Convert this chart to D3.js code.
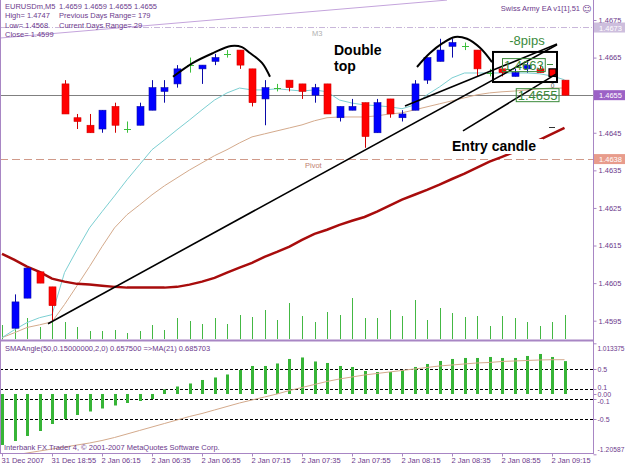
<!DOCTYPE html>
<html>
<head>
<meta charset="utf-8">
<script src="https://cdn.jsdelivr.net/npm/d3@7"></script>
<style>
body { margin: 0; background: #fff; }
svg { display: block; }
text { font-family: "Liberation Sans", Arial, sans-serif; }
</style>
</head>
<body>
<svg width="625" height="469"></svg>
<script>
// EURUSDm M5 bars, 31 Dec 2007 - 2 Jan 2008 (bar 0 sits below the visible range)
var opens  = [1.4588,1.4593,1.4601,1.4608,1.4604,1.4658,1.4649,1.4647,1.4646,1.4652,1.4646,1.4647,1.4651,1.4656,1.4658,1.4663,1.4662,1.4664,1.4666,1.4667,1.4662,1.4654,1.4657,1.4659,1.4658,1.4655,1.4658,1.4649,1.4651,1.4653,1.4645,1.4654,1.4649,1.4651,1.4659,1.4664,1.4668,1.4668,1.4667,1.4661,1.4662,1.4660,1.4662,1.4662,1.4662,1.4659];
var highs  = [1.4590,1.4602,1.4609,1.4608,1.4604,1.4659,1.4650,1.4650,1.4651,1.4653,1.4648,1.4653,1.4659,1.4659,1.4663,1.4665,1.4663,1.4666,1.4667,1.4667,1.4662,1.4659,1.4658,1.4659,1.4658,1.4658,1.4658,1.4652,1.4654,1.4653,1.4654,1.4654,1.4651,1.4659,1.4665,1.4670,1.4670,1.4669,1.4667,1.4662,1.4663,1.4662,1.4664,1.4663,1.4662,1.4659];
var lows   = [1.4586,1.4593,1.4601,1.4605,1.4595,1.4650,1.4646,1.4645,1.4645,1.4645,1.4645,1.4647,1.4651,1.4653,1.4657,1.4661,1.4658,1.4663,1.4665,1.4662,1.4652,1.4647,1.4656,1.4656,1.4654,1.4653,1.4650,1.4648,1.4651,1.4641,1.4645,1.4649,1.4648,1.4651,1.4658,1.4664,1.4665,1.4667,1.4660,1.4660,1.4660,1.4660,1.4661,1.4661,1.4660,1.4655];
var closes = [1.4589,1.4600,1.4609,1.4605,1.4599,1.4650,1.4648,1.4645,1.4651,1.4647,1.4646,1.4652,1.4657,1.4657,1.4662,1.4663,1.4663,1.4665,1.4666,1.4663,1.4653,1.4657,1.4657,1.4657,1.4656,1.4657,1.4650,1.4652,1.4652,1.4644,1.4653,1.4650,1.4650,1.4658,1.4665,1.4667,1.4669,1.4668,1.4662,1.4661,1.4661,1.4661,1.4663,1.4661,1.4660,1.4655];
var volumes = [14,13,21,12,17,17,12,8,8,9,6,8,14,9,21,18,15,21,15,24,22,29,19,36,23,17,27,24,41,21,21,29,23,39,19,31,26,22,23,13,23,21,17,13,17,24];

// moving averages on price
var maFast = [1.45905,1.45926,1.45945,1.45958,1.45966,1.46078,1.46139,1.46197,1.46240,1.46282,1.46325,1.46365,1.46405,1.46431,1.46458,1.46484,1.46511,1.46537,1.46556,1.46569,1.46564,1.46564,1.46567,1.46564,1.46561,1.46564,1.46559,1.46537,1.46529,1.46524,1.46522,1.46519,1.46514,1.46524,1.46551,1.46572,1.46596,1.46609,1.46609,1.46609,1.46609,1.46609,1.46609,1.46607,1.46601,1.46591];
var maSlow = [1.45905,1.45918,1.45932,1.45939,1.45947,1.45993,1.46043,1.46094,1.46147,1.46197,1.46232,1.46258,1.46285,1.46309,1.46330,1.46351,1.46370,1.46389,1.46405,1.46423,1.46439,1.46447,1.46455,1.46463,1.46471,1.46482,1.46490,1.46492,1.46492,1.46492,1.46495,1.46500,1.46503,1.46511,1.46519,1.46527,1.46535,1.46543,1.46551,1.46556,1.46559,1.46561,1.46564,1.46567,1.46569,1.46569];
var maLong = [1.46128,1.46112,1.46094,1.46080,1.46062,1.46054,1.46048,1.46046,1.46043,1.46040,1.46038,1.46038,1.46038,1.46038,1.46040,1.46046,1.46054,1.46064,1.46078,1.46091,1.46104,1.46120,1.46133,1.46147,1.46165,1.46181,1.46192,1.46205,1.46216,1.46226,1.46240,1.46256,1.46272,1.46285,1.46298,1.46312,1.46327,1.46341,1.46357,1.46373,1.46386,1.46399,1.46415,1.46431,1.46447,1.46463];

// SMAAngle histogram and its MA(21)
var smaAngle = [-1.02,-0.94,-0.84,-0.74,-0.60,-0.50,-0.42,-0.35,-0.29,-0.23,-0.18,-0.14,-0.10,0.09,0.15,0.21,0.28,0.33,0.39,0.48,0.56,0.56,0.61,0.70,0.73,0.65,0.62,0.56,0.54,0.46,0.44,0.44,0.48,0.54,0.60,0.66,0.70,0.72,0.72,0.74,0.72,0.72,0.76,0.80,0.74,0.6575];
var smaAngleMA = [-1.26,-1.22,-1.18,-1.14,-1.10,-1.06,-1.02,-0.98,-0.93,-0.87,-0.80,-0.73,-0.66,-0.59,-0.52,-0.45,-0.39,-0.32,-0.25,-0.18,-0.12,-0.06,0.00,0.07,0.13,0.19,0.25,0.30,0.34,0.38,0.41,0.44,0.47,0.50,0.53,0.56,0.58,0.60,0.62,0.63,0.65,0.66,0.67,0.68,0.685,0.6857];

var timeTickBars = [0,4,8,12,16,20,24,28,32,36,40,44];
var timeLabels = ["31 Dec 2007","31 Dec 18:55","2 Jan 06:15","2 Jan 06:35","2 Jan 06:55","2 Jan 07:15","2 Jan 07:35","2 Jan 07:55","2 Jan 08:15","2 Jan 08:35","2 Jan 08:55","2 Jan 09:15"];
var priceTicks = [1.4675,1.4665,1.4655,1.4645,1.4635,1.4625,1.4615,1.4605,1.4595];
var indTicks = [1.013375,0.5,0.1,0,-0.1,-0.5,-1.20587];
var indTickLabels = ["1.013375","0.5","0.1","0.00","-0.1","-0.5","-1.20587"];
var indLevels = [0.5,0.1,-0.1,-0.5];

var headerLeft = ["EURUSDm,M5","High= 1.4747","Low= 1.4568","Close= 1.4599"];
var headerRight = ["1.4659 1.4659 1.4655 1.4655","Previous Days Range= 179","Current Days Range= 29",""];

// drawn objects, in (bar, price) coordinates
var trendLines = [
	[[3.68, 1.45942], [44.4, 1.46684]],
	[[32.24, 1.46521], [44.4, 1.46686]],
	[[36.88, 1.46455], [44.32, 1.46606]]
];
var topTrend = [[-0.16, 1.46702], [35.6, 1.46803]];
var arcs = [
	[[13.68,1.46599],[15.28,1.46636],[16.88,1.46662],[18.32,1.46681],[19.2,1.46678],[19.84,1.46662],[20.8,1.46636],[21.44,1.46599]],
	[[33.2,1.46625],[34.24,1.46662],[35.28,1.46689],[36.24,1.46705],[37.2,1.46700],[38.24,1.46676],[39.2,1.46638]]
];
var boxBars = [39.28, 44.4], boxPrices = [1.46665, 1.46585];
var entryBar = 44;
var m3Level = 1.4673, bidLevel = 1.4655, pivotLevel = 1.4638;

var svg = d3.select("svg"),
	width = +svg.attr("width"),
	height = +svg.attr("height");

var plotRight = 593;
var purple = "#6c3a8c", frame = "#a886c4";

var x = d3.scaleLinear().domain([0, 45]).range([2, 564.5]);
var y = d3.scaleLinear().domain([1.4595, 1.4675]).range([320.7, 20]);
var yv = d3.scaleLinear().domain([0, 100]).range([339, 239]);
var yi = d3.scaleLinear().domain([-1.20587, 1.013375]).range([454.3, 343.3]);

var defs = svg.append("defs");
defs.append("clipPath").attr("id", "pclip").append("rect")
	.attr("x", 1).attr("y", 0).attr("width", plotRight - 1).attr("height", 339.5);
defs.append("clipPath").attr("id", "iclip").append("rect")
	.attr("x", 1).attr("y", 342).attr("width", plotRight - 1).attr("height", 111);

var gP = svg.append("g").attr("clip-path", "url(#pclip)");
var gI = svg.append("g").attr("clip-path", "url(#iclip)");

function px(i) { return Math.round(x(i)) + 0.5; }

// horizontal levels
gP.append("line").attr("x1", 0).attr("x2", plotRight)
	.attr("y1", y(m3Level)).attr("y2", y(m3Level))
	.attr("stroke", "#c9b6da").attr("stroke-dasharray", "6,2,1,2");
gP.append("line").attr("x1", 0).attr("x2", plotRight)
	.attr("y1", Math.round(y(bidLevel)) + 0.5).attr("y2", Math.round(y(bidLevel)) + 0.5)
	.attr("stroke", "#808080");
gP.append("line").attr("x1", 0).attr("x2", plotRight)
	.attr("y1", Math.round(y(pivotLevel)) + 0.5).attr("y2", Math.round(y(pivotLevel)) + 0.5)
	.attr("stroke", "#d09a8a").attr("stroke-dasharray", "8,4");
gP.append("text").attr("x", 312).attr("y", y(m3Level) + 8)
	.attr("font-size", 7.5).attr("fill", "#b0b0b0").text("M3");
gP.append("text").attr("x", 305).attr("y", y(pivotLevel) + 9)
	.attr("font-size", 7.5).attr("fill", "#c08070").text("Pivot");

// top trendline
gP.append("line")
	.attr("x1", x(topTrend[0][0])).attr("y1", y(topTrend[0][1]))
	.attr("x2", x(topTrend[1][0])).attr("y2", y(topTrend[1][1]))
	.attr("stroke", "#c4a4dc");

// volumes
gP.append("g").selectAll("line").data(volumes).enter().append("line")
	.attr("x1", function(d, i) { return px(i); })
	.attr("x2", function(d, i) { return px(i); })
	.attr("y1", yv(0))
	.attr("y2", function(d) { return yv(d); })
	.attr("stroke", "#44b844");

// moving averages
var maLine = function(arr) {
	return d3.line().x(function(d, i) { return x(i); }).y(function(d) { return y(d); })(arr);
};
gP.append("path").attr("d", maLine(maSlow)).attr("fill", "none").attr("stroke", "#d4aa8c").attr("stroke-width", 1);
gP.append("path").attr("d", maLine(maFast)).attr("fill", "none").attr("stroke", "#7ccfd2").attr("stroke-width", 1);
gP.append("path").attr("d", maLine(maLong)).attr("fill", "none").attr("stroke", "#a80c0c").attr("stroke-width", 2.5);

// candles
var candle = gP.append("g").selectAll("g").data(d3.range(opens.length)).enter().append("g");
function cColor(i) {
	if (closes[i] > opens[i]) return "#0000ff";
	if (closes[i] < opens[i]) return "#ff0000";
	return "#3cbf3c";
}
function wColor(i) {
	if (closes[i] > opens[i]) return "#0a0aa8";
	if (closes[i] < opens[i]) return "#d00000";
	return "#3cbf3c";
}
candle.append("line")
	.attr("x1", function(i) { return px(i); })
	.attr("x2", function(i) { return px(i); })
	.attr("y1", function(i) { return y(highs[i]); })
	.attr("y2", function(i) { return y(lows[i]); })
	.attr("stroke", wColor);
candle.filter(function(i) { return closes[i] != opens[i]; })
	.append("rect")
	.attr("x", function(i) { return Math.round(x(i)) - 3; })
	.attr("width", 7)
	.attr("y", function(i) { return y(Math.max(opens[i], closes[i])); })
	.attr("height", function(i) { return Math.abs(y(opens[i]) - y(closes[i])); })
	.attr("fill", cColor)
	.attr("stroke", function(i) { return i == entryBar ? "#000" : wColor(i); })
	.attr("stroke-width", function(i) { return i == entryBar ? 1.2 : 0.6; });
candle.filter(function(i) { return closes[i] == opens[i]; })
	.append("line")
	.attr("x1", function(i) { return Math.round(x(i)) - 3; })
	.attr("x2", function(i) { return Math.round(x(i)) + 4; })
	.attr("y1", function(i) { return Math.round(y(opens[i])) + 0.5; })
	.attr("y2", function(i) { return Math.round(y(opens[i])) + 0.5; })
	.attr("stroke", "#3cbf3c");

// hand drawn objects
var dataLine = d3.line().x(function(d) { return x(d[0]); }).y(function(d) { return y(d[1]); });
gP.append("g").selectAll("path").data(trendLines).enter().append("path")
	.attr("d", dataLine).attr("fill", "none").attr("stroke", "#000").attr("stroke-width", 1.6);
gP.append("g").selectAll("path").data(arcs).enter().append("path")
	.attr("d", dataLine.curve(d3.curveCatmullRom)).attr("fill", "none").attr("stroke", "#000").attr("stroke-width", 2);
gP.append("rect")
	.attr("x", x(boxBars[0])).attr("y", y(boxPrices[0]))
	.attr("width", x(boxBars[1]) - x(boxBars[0]))
	.attr("height", y(boxPrices[1]) - y(boxPrices[0]))
	.attr("fill", "none").attr("stroke", "#000").attr("stroke-width", 2);

// green price tags
var tags = [{bar: 40.0, price: 1.4663}, {bar: 41.1, price: 1.4655}];
tags.forEach(function(t) {
	var g = gP.append("g");
	var tx = g.append("text").attr("x", x(t.bar) + 2).attr("y", y(t.price) + 5)
		.attr("font-size", 13).attr("fill", "#3a8a3a").text(d3.format(".4f")(t.price));
	var w = tx.node().getComputedTextLength();
	g.insert("rect", "text").attr("x", x(t.bar) + 0.5).attr("y", y(t.price) - 6.5)
		.attr("width", w + 3).attr("height", 13).attr("fill", "none").attr("stroke", "#3a8a3a");
});
gP.append("line").attr("x1", 547).attr("x2", 553).attr("y1", 64.5).attr("y2", 64.5).attr("stroke", "#3a8a3a");
gP.append("text").attr("x", 527).attr("y", 45).attr("text-anchor", "middle")
	.attr("font-size", 13).attr("fill", "#3a8a3a").text("-8pips");
gP.append("text").attr("x", px(entryBar)).attr("y", 87.5).attr("text-anchor", "middle")
	.attr("font-size", 6.5).attr("fill", "#555").text("0");
gP.append("line").attr("x1", 549).attr("x2", 555).attr("y1", 127.5).attr("y2", 127.5).attr("stroke", "#333");

// annotation text
gP.append("text").attr("x", 334).attr("y", 55).attr("font-size", 14).attr("font-weight", "bold").text("Double");
gP.append("text").attr("x", 334).attr("y", 71).attr("font-size", 14).attr("font-weight", "bold").text("top");
gP.append("rect").attr("x", 451).attr("y", 139).attr("width", 92).attr("height", 15).attr("fill", "#fff");
gP.append("text").attr("x", 452).attr("y", 151).attr("font-size", 14).attr("font-weight", "bold").text("Entry candle");

// header
var head = svg.append("g").attr("font-size", 7.5).attr("fill", purple);
head.selectAll("text.l").data(headerLeft).enter().append("text")
	.attr("x", 5).attr("y", function(d, i) { return 9 + i * 9.3; }).text(function(d) { return d; });
head.selectAll("text.r").data(headerRight).enter().append("text")
	.attr("x", 59).attr("y", function(d, i) { return 9 + i * 9.3; }).text(function(d) { return d; });
svg.append("text").attr("x", 580).attr("y", 11).attr("text-anchor", "end")
	.attr("font-size", 7.5).attr("fill", purple).text("Swiss Army EA v1[1],51");
svg.append("text").attr("x", 582).attr("y", 12).attr("font-size", 9).attr("fill", purple)
	.style("font-family", "DejaVu Sans").text("\u263A");

// indicator panel
gI.append("g").selectAll("line").data(indLevels).enter().append("line")
	.attr("x1", 0).attr("x2", plotRight)
	.attr("y1", function(d) { return Math.round(yi(d)) + 0.5; })
	.attr("y2", function(d) { return Math.round(yi(d)) + 0.5; })
	.attr("stroke", "#000").attr("stroke-dasharray", "3,2");
gI.append("g").selectAll("rect").data(smaAngle).enter().append("rect")
	.attr("x", function(d, i) { return Math.round(x(i)) - 1; })
	.attr("width", 3)
	.attr("y", function(d) { return Math.min(yi(d), yi(0)); })
	.attr("height", function(d) { return Math.abs(yi(d) - yi(0)); })
	.attr("fill", "#36b436");
gI.append("path")
	.attr("d", d3.line().x(function(d, i) { return x(i); }).y(function(d) { return yi(d); })(smaAngleMA))
	.attr("fill", "none").attr("stroke", "#d4aa8c");
svg.append("text").attr("x", 5).attr("y", 351).attr("font-size", 7.5).attr("fill", purple)
	.text("SMAAngle(50,0.15000000,2,0) 0.657500  =>MA(21) 0.685703");
svg.append("text").attr("x", 4).attr("y", 450).attr("font-size", 7.5).attr("fill", purple)
	.text("Interbank FX Trader 4, \u00A9 2001-2007 MetaQuotes Software Corp.");

// frame
svg.append("line").attr("x1", 0.5).attr("x2", 0.5).attr("y1", 0).attr("y2", 454).attr("stroke", frame);
svg.append("line").attr("x1", plotRight + 0.5).attr("x2", plotRight + 0.5).attr("y1", 0).attr("y2", 454).attr("stroke", frame);
svg.append("line").attr("x1", 0).attr("x2", plotRight).attr("y1", 340.5).attr("y2", 340.5).attr("stroke", frame).attr("stroke-width", 2);
svg.append("line").attr("x1", 0).attr("x2", plotRight).attr("y1", 453.5).attr("y2", 453.5).attr("stroke", frame);

// axes
var priceAxis = svg.append("g").attr("transform", "translate(" + (plotRight + 0.5) + ",0)")
	.call(d3.axisRight(y).tickValues(priceTicks).tickSize(3).tickPadding(2).tickFormat(d3.format(".4f")));
var indAxis = svg.append("g").attr("transform", "translate(" + (plotRight + 0.5) + ",0)")
	.call(d3.axisRight(yi).tickValues(indTicks).tickSize(3).tickPadding(1)
		.tickFormat(function(d, i) { return indTickLabels[i]; }));
var timeAxis = svg.append("g").attr("transform", "translate(0,453.5)")
	.call(d3.axisBottom(x).tickValues(timeTickBars).tickSize(3).tickPadding(1)
		.tickFormat(function(d, i) { return timeLabels[i]; }));
[priceAxis, indAxis, timeAxis].forEach(function(a) {
	a.select(".domain").remove();
	a.selectAll("line").attr("stroke", frame);
	a.selectAll("text").attr("fill", purple).attr("font-size", 7.5)
		.style("font-family", "'Liberation Sans', Arial, sans-serif");
});
timeAxis.selectAll("text").attr("text-anchor", "start").attr("x", -1);
// indicator scale labels: edge values pulled inside, small levels spread apart
var indShift = [4.5, 0, -2, 0, 2, 0, -5];
indAxis.selectAll("text")
	.attr("font-size", function(d, i) { return (i == 0 || i == indTicks.length - 1) ? 6.6 : 7; })
	.attr("textLength", function(d, i) { return (i == 0 || i == indTicks.length - 1) ? 27 : null; })
	.attr("dy", function(d, i) { return (indShift[i] + 2.3) + "px"; });
priceAxis.selectAll("text").attr("dy", "0.32em");

// price tags on the axis
var axisTags = [
	{price: m3Level, fill: "#cdbedd"},
	{price: bidLevel, fill: "#9c62c6"},
	{price: pivotLevel, fill: "#e89c8c"}
];
var at = svg.append("g").selectAll("g").data(axisTags).enter().append("g");
at.append("rect").attr("x", plotRight + 1).attr("width", width - plotRight - 1)
	.attr("y", function(d) { return y(d.price) - 5; }).attr("height", 10)
	.attr("fill", function(d) { return d.fill; });
at.append("text").attr("x", plotRight + 6).attr("y", function(d) { return y(d.price) + 3; })
	.attr("font-size", 7.5).attr("fill", "#fff").text(function(d) { return d3.format(".4f")(d.price); });
</script>
</body>
</html>
